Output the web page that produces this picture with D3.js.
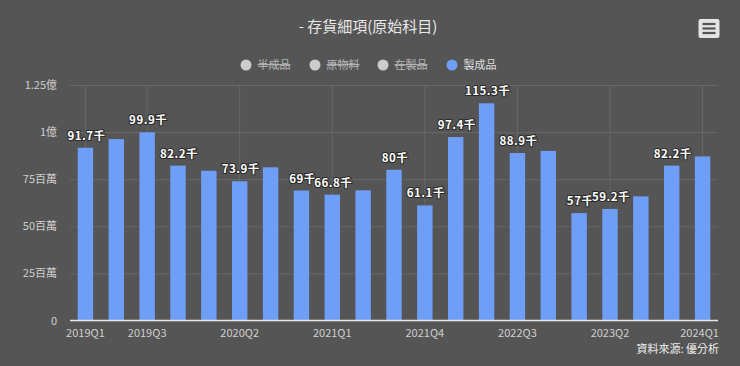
<!DOCTYPE html>
<html>
<head>
<meta charset="utf-8">
<script src="https://cdn.jsdelivr.net/npm/d3@7"></script>
<style>
  html, body { margin: 0; padding: 0; background: #555555; }
  svg { display: block; font-family: "Noto Sans CJK TC", "Noto Sans", sans-serif; }
</style>
</head>
<body>
<div id="chart"></div>
<script>
// quarters on the x axis
const quarters = [
    '2019Q1', '2019Q2', '2019Q3', '2019Q4',
    '2020Q1', '2020Q2', '2020Q3', '2020Q4',
    '2021Q1', '2021Q2', '2021Q3', '2021Q4',
    '2022Q1', '2022Q2', '2022Q3', '2022Q4',
    '2023Q1', '2023Q2', '2023Q3', '2023Q4',
    '2024Q1'
];
// 製成品, in millions
const finishedGoods = [
    91.7, 96.3, 99.9, 82.2, 79.5, 73.9, 81.3, 69, 66.8, 69.1, 80,
    61.1, 97.4, 115.3, 88.9, 90.0, 57, 59.2, 65.9, 82.2, 87.1
];
// which bars keep their data label (others hidden by overlap)
const showLabel = [
    true, false, true, true, false, true, false, true, true, false, true,
    true, true, true, true, false, true, true, false, true, false
];
const xTicks = ['2019Q1', '2019Q3', '2020Q2', '2021Q1', '2021Q4', '2022Q3', '2023Q2', '2024Q1'];
const yTicks = [0, 25, 50, 75, 100, 125];
const yTickLabels = ['0', '25百萬', '50百萬', '75百萬', '1億', '1.25億'];
const legendItems = ['半成品', '原物料', '在製品', '製成品'];
const legendVisible = [false, false, false, true];

const width = 740, height = 366;
const margin = { left: 70, right: 22, top: 85, bottom: 45.5 };
const barColor = '#6f9ef6';

const svg = d3.select('#chart').append('svg')
    .attr('width', width)
    .attr('height', height);

svg.append('rect')
    .attr('width', width)
    .attr('height', height)
    .attr('fill', '#555555');

// title
svg.append('text')
    .attr('x', 368)
    .attr('y', 32)
    .attr('text-anchor', 'middle')
    .attr('fill', '#e8e8e8')
    .style('font-size', '15px')
    .text('- 存貨細項(原始科目)');

// menu button
const menu = svg.append('g').attr('transform', 'translate(698.5,19)');
menu.append('rect')
    .attr('width', 21).attr('height', 19).attr('rx', 2)
    .attr('fill', '#e4e4e4');
[5, 9.5, 14].forEach(y => {
    menu.append('line')
        .attr('x1', 4).attr('x2', 17).attr('y1', y).attr('y2', y)
        .attr('stroke', '#555').attr('stroke-width', 2.2);
});

// legend
const legendX = [246, 315, 383, 452];
const legend = svg.append('g').attr('class', 'legend');
legendItems.forEach((name, i) => {
    const g = legend.append('g').attr('transform', `translate(${legendX[i]},65)`);
    g.append('circle')
        .attr('r', 5.5)
        .attr('fill', legendVisible[i] ? barColor : '#cccccc');
    g.append('text')
        .attr('x', 11.5)
        .attr('y', 4)
        .attr('fill', legendVisible[i] ? '#e0e0e0' : '#b8b8b8')
        .style('font-size', '11px')
        .style('text-decoration', legendVisible[i] ? 'none' : 'line-through')
        .text(name);
});

// scales
const x = d3.scaleBand()
    .domain(quarters)
    .range([margin.left, width - margin.right])
    .paddingInner(0.5)
    .paddingOuter(0.25);

const y = d3.scaleLinear()
    .domain([0, 125])
    .range([height - margin.bottom, margin.top]);

const plotW = width - margin.right - margin.left;

// horizontal grid + y labels
const yAxis = d3.axisLeft(y)
    .tickValues(yTicks)
    .tickSize(-plotW)
    .tickPadding(13)
    .tickFormat((d, i) => yTickLabels[i]);

svg.append('g')
    .attr('transform', `translate(${margin.left},0)`)
    .call(yAxis)
    .call(g => g.select('.domain').remove())
    .call(g => g.selectAll('.tick line').attr('stroke', '#676767'))
    .call(g => g.selectAll('.tick text')
        .attr('fill', '#cfcfcf')
        .style('font-size', '11px')
        .style('font-family', '"Noto Sans CJK TC", sans-serif'));

// vertical grid at labelled categories
svg.append('g')
    .selectAll('line')
    .data(xTicks)
    .join('line')
    .attr('x1', d => x(d) + x.bandwidth() / 2)
    .attr('x2', d => x(d) + x.bandwidth() / 2)
    .attr('y1', margin.top)
    .attr('y2', height - margin.bottom)
    .attr('stroke', '#676767');

// bars
svg.append('g')
    .selectAll('rect')
    .data(finishedGoods)
    .join('rect')
    .attr('x', (d, i) => x(quarters[i]))
    .attr('y', d => y(d))
    .attr('width', x.bandwidth())
    .attr('height', d => y(0) - y(d))
    .attr('fill', barColor);

// data labels
const fmt = v => (+v.toFixed(1)) + '千';
svg.append('g')
    .selectAll('text')
    .data(finishedGoods.map((v, i) => ({ v, i })).filter(d => showLabel[d.i]))
    .join('text')
    .attr('x', d => x(quarters[d.i]) + x.bandwidth() / 2 + 1)
    .attr('y', d => y(d.v) - 8)
    .attr('text-anchor', 'middle')
    .attr('fill', '#ffffff')
    .attr('stroke', '#2a2a2a')
    .attr('stroke-width', 2)
    .attr('paint-order', 'stroke')
    .style('font-size', '11.5px')
    .style('font-weight', 'bold')
    .style('letter-spacing', '0.5px')
    .text(d => fmt(d.v));

// x axis
const xAxis = d3.axisBottom(x)
    .tickValues(xTicks)
    .tickSize(0)
    .tickPadding(9);

svg.append('g')
    .attr('transform', `translate(0,${height - margin.bottom})`)
    .call(xAxis)
    .call(g => g.select('.domain')
        .attr('stroke', '#e6e6e6')
        .attr('stroke-width', 1.5)
        .attr('d', `M${margin.left},0H${width - margin.right}`))
    .call(g => g.selectAll('.tick text')
        .attr('fill', '#cfcfcf')
        .style('font-size', '11px')
        .style('font-family', '"Noto Sans CJK TC", sans-serif'));

// shift the last label inside like the original
svg.selectAll('.tick text')
    .filter(d => d === '2024Q1')
    .attr('dx', '-3px');

// source note
svg.append('text')
    .attr('x', 719)
    .attr('y', 353)
    .attr('text-anchor', 'end')
    .attr('fill', '#eeeeee')
    .style('font-size', '11px')
    .text('資料來源: 優分析');
</script>
</body>
</html>
